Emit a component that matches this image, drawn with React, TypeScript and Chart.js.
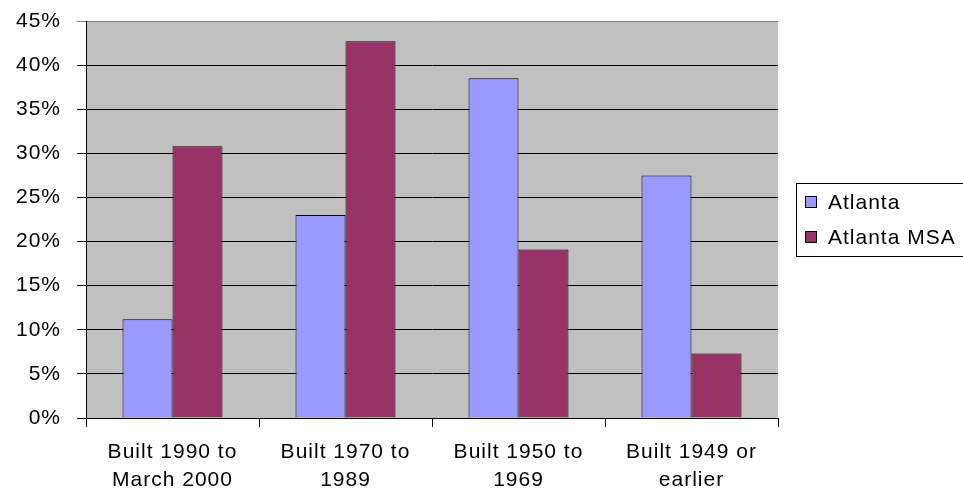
import React, { useEffect, useRef } from "react";
import { Chart, registerables } from "chart.js";

Chart.register(...registerables);

const categories: string[][] = [
  ["Built 1990 to", "March 2000"],
  ["Built 1970 to", "1989"],
  ["Built 1950 to", "1969"],
  ["Built 1949 or", "earlier"],
];
const seriesNames = ["Atlanta", "Atlanta MSA"];
const atlanta = [11.2, 23.0, 38.5, 27.5];
const atlantaMSA = [30.8, 42.7, 19.1, 7.3];
const colors = ["#9999FF", "#993366"];

const FONT = "'Liberation Sans', Arial, sans-serif";
const SPACING = "1px";

const letterSpacingPlugin = {
  id: "letterSpacing",
  beforeUpdate(chart: any) {
    (chart.ctx as any).letterSpacing = SPACING;
  },
  beforeLayout(chart: any) {
    (chart.ctx as any).letterSpacing = SPACING;
  },
  beforeDraw(chart: any) {
    (chart.ctx as any).letterSpacing = SPACING;
    const { ctx, chartArea } = chart;
    ctx.save();
    ctx.fillStyle = "#C0C0C0";
    ctx.fillRect(chartArea.left, chartArea.top, chartArea.right - chartArea.left, chartArea.bottom - chartArea.top);
    ctx.restore();
  },
};

const legendPlugin = {
  id: "boxLegend",
  afterDraw(chart: any) {
    const ctx = chart.ctx as CanvasRenderingContext2D;
    ctx.save();
    (ctx as any).letterSpacing = SPACING;
    ctx.strokeStyle = "#000";
    ctx.lineWidth = 1;
    ctx.strokeRect(796.5, 183.5, 175, 73);
    ctx.font = `21px ${FONT}`;
    ctx.textBaseline = "middle";
    ctx.textAlign = "left";
    chart.data.datasets.forEach((ds: any, i: number) => {
      const cy = 202 + i * 35;
      ctx.fillStyle = ds.backgroundColor;
      ctx.fillRect(805, cy - 6, 12, 12);
      ctx.strokeStyle = "#000";
      ctx.strokeRect(805.5, cy - 5.5, 11, 11);
      ctx.fillStyle = "#000";
      ctx.fillText(ds.label, 828, cy + 1);
    });
    ctx.restore();
  },
};

export default function App() {
  const ref = useRef<HTMLCanvasElement>(null);
  useEffect(() => {
    if (!ref.current) return;
    const chart = new Chart(ref.current, {
      type: "bar",
      data: {
        labels: categories,
        datasets: [
          {
            label: seriesNames[0],
            data: atlanta,
            backgroundColor: colors[0],
            borderColor: "#000",
            borderWidth: 1,
            categoryPercentage: 0.578,
            barPercentage: 1,
          },
          {
            label: seriesNames[1],
            data: atlantaMSA,
            backgroundColor: colors[1],
            borderColor: "#000",
            borderWidth: 1,
            categoryPercentage: 0.578,
            barPercentage: 1,
          },
        ],
      },
      options: {
        responsive: false,
        animation: false,
        layout: { padding: { left: 0, right: 185, top: 21, bottom: 0 } },
        plugins: {
          legend: { display: false },
          tooltip: { enabled: false },
        },
        scales: {
          x: {
            grid: {
              display: true,
              drawOnChartArea: false,
              drawTicks: true,
              tickLength: 9,
              color: "#000",
              offset: true,
            },
            border: { display: true, color: "#000", width: 1 },
            ticks: {
              color: "#000",
              font: { family: FONT, size: 21, lineHeight: 1.3 },
              padding: 12,
              maxRotation: 0,
              autoSkip: false,
            },
            afterFit: (s: any) => {
              s.height = 494 - 418;
              s.paddingLeft = 0;
              s.paddingRight = 0;
            },
          },
          y: {
            min: 0,
            max: 45,
            grid: {
              color: (c: any) => (c.tick && c.tick.value === 45 ? "#808080" : "#000"),
              tickLength: 9,
              drawTicks: true,
            },
            border: { display: true, color: "#000", width: 1 },
            ticks: {
              stepSize: 5,
              color: "#000",
              padding: 16,
              font: { family: FONT, size: 21 },
              callback: (v: any) => `${v}%`,
            },
            afterFit: (s: any) => {
              s.width = 86;
              s.paddingTop = 0;
              s.paddingBottom = 0;
            },
          },
        },
      },
      plugins: [letterSpacingPlugin, legendPlugin],
    } as any);
    return () => chart.destroy();
  }, []);
  return (
    <div style={{ position: "fixed", left: 0, top: 0, width: 963, height: 494, background: "#fff" }}>
      <canvas ref={ref} width={963} height={494} style={{ display: "block" }} />
    </div>
  );
}
